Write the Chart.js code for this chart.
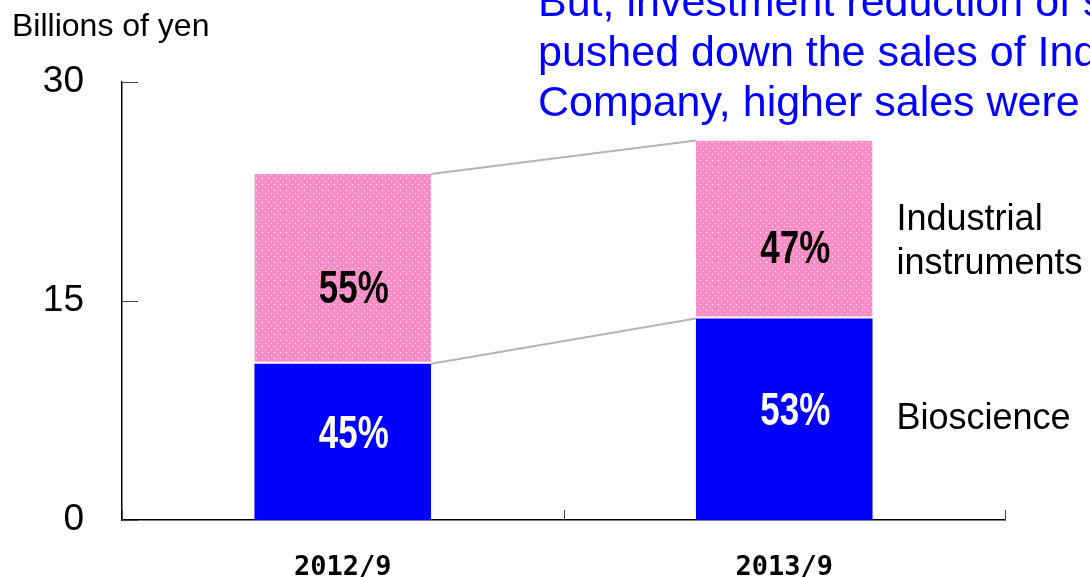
<!DOCTYPE html>
<html>
<head>
<meta charset="utf-8">
<script src="https://cdn.jsdelivr.net/npm/chart.js@4/dist/chart.umd.min.js"></script>
<style>
  body { margin: 0; background: #fff; }
  #wrap { width: 1090px; height: 577px; position: relative; }
</style>
</head>
<body>
<div id="wrap"><canvas id="salesGraph"></canvas></div>
<script>
// Dados
const periods = ["2012/9", "2013/9"];
const bioscience = [10.7, 13.8];
const industrial = [13.0, 12.2];
const segmentNames = ["Bioscience", ["Industrial", "instruments"]];
const unitLabel = "Billions of yen";
const noteLines = [
    "But, investment reduction of semiconductor",
    "pushed down the sales of Industrial",
    "Company, higher sales were"
];

// padrão rosa com pontinhos brancos
function dotPattern() {
    const c = document.createElement('canvas');
    c.width = 6; c.height = 6;
    const p = c.getContext('2d');
    p.fillStyle = '#FF8CC6';
    p.fillRect(0, 0, 6, 6);
    p.fillStyle = '#FFFFFF';
    p.fillRect(1, 1, 1, 1);
    p.fillRect(4, 4, 1, 1);
    return p.createPattern(c, 'repeat');
}

// texto estreito (tipo Arial Narrow)
function narrowText(ctx, txt, x, y, sx) {
    ctx.save();
    ctx.translate(x, y);
    ctx.scale(sx, 1);
    ctx.fillText(txt, 0, 0);
    ctx.restore();
}

const extras = {
    id: 'extras',
    afterDatasetsDraw(chart) {
        const ctx = chart.ctx;
        const x = chart.scales.x, y = chart.scales.y;
        const bio = chart.getDatasetMeta(0).data;
        const ind = chart.getDatasetMeta(1).data;
        ctx.save();

        // ticks para dentro
        ctx.strokeStyle = '#444';
        ctx.lineWidth = 1;
        [0, 15, 30].forEach(v => {
            const py = Math.round(y.getPixelForValue(v)) + 0.5;
            ctx.beginPath();
            ctx.moveTo(x.left, py);
            ctx.lineTo(x.left + 16, py);
            ctx.stroke();
        });
        const half = (x.getPixelForValue(1) - x.getPixelForValue(0)) / 2;
        [x.getPixelForValue(0) - half, x.getPixelForValue(0) + half, x.getPixelForValue(1) + half].forEach(px => {
            px = Math.round(px) + 0.5;
            ctx.beginPath();
            ctx.moveTo(px, y.bottom);
            ctx.lineTo(px, y.bottom - 10);
            ctx.stroke();
        });

        // linhas de ligação
        ctx.strokeStyle = '#B4B4B4';
        ctx.lineWidth = 2;
        [bio, ind].forEach(els => {
            ctx.beginPath();
            ctx.moveTo(els[0].x + els[0].width / 2, els[0].y);
            ctx.lineTo(els[1].x - els[1].width / 2, els[1].y);
            ctx.stroke();
        });

        // percentuais
        ctx.textAlign = 'center';
        ctx.textBaseline = 'middle';
        ctx.font = 'bold 46px "Liberation Sans", Arial, sans-serif';
        periods.forEach((p, i) => {
            const total = bioscience[i] + industrial[i];
            const pb = Math.round(bioscience[i] / total * 100);
            const pi = Math.round(industrial[i] / total * 100);
            const bx = bio[i].x + 11;
            ctx.fillStyle = '#fff';
            narrowText(ctx, pb + '%', bx, (bio[i].y + bio[i].base) / 2 - 7, 0.76);
            ctx.fillStyle = '#000';
            narrowText(ctx, pi + '%', bx, (ind[i].y + ind[i].base) / 2 + 21, 0.76);
        });

        // nomes dos segmentos
        const last = bio.length - 1;
        const lx = bio[last].x + bio[last].width / 2 + 24;
        ctx.textAlign = 'left';
        ctx.fillStyle = '#000';
        ctx.font = '36px "Liberation Sans", Arial, sans-serif';
        ctx.fillText(segmentNames[0], lx, (bio[last].y + bio[last].base) / 2);
        const indMid = (ind[last].y + ind[last].base) / 2 + 13;
        ctx.fillText(segmentNames[1][0], lx, indMid - 22);
        ctx.fillText(segmentNames[1][1], lx, indMid + 22);

        // unidade
        ctx.textBaseline = 'alphabetic';
        ctx.font = '32px "Liberation Sans", Arial, sans-serif';
        ctx.fillText(unitLabel, 12, 36);

        // texto azul
        ctx.fillStyle = '#0000FF';
        ctx.font = '43px "Liberation Sans", Arial, sans-serif';
        noteLines.forEach((t, k) => ctx.fillText(t, 538, 16 + k * 50));

        ctx.restore();
    }
};

const sales_ctx = document.getElementById("salesGraph").getContext('2d');

const salesGraph = new Chart(sales_ctx, {
    type: 'bar',
    data: {
        labels: periods,
        datasets: [{
            label: "Bioscience",
            data: bioscience,
            backgroundColor: '#0000FF',
            borderWidth: 0,
            barPercentage: 0.4,
            categoryPercentage: 1
        }, {
            label: "Industrial instruments",
            data: industrial,
            backgroundColor: dotPattern(),
            borderColor: '#fff',
            borderWidth: { bottom: 2, top: 0, left: 0, right: 0 },
            borderSkipped: false,
            barPercentage: 0.4,
            categoryPercentage: 1
        }]
    },
    options: {
        responsive: true,
        maintainAspectRatio: false,
        animation: false,
        layout: { padding: { top: 82, right: 85, left: 0, bottom: 0 } },
        plugins: {
            legend: { display: false },
            tooltip: { enabled: false }
        },
        scales: {
            x: {
                stacked: true,
                grid: { display: false },
                border: { display: true, color: '#000', width: 1.5 },
                ticks: {
                    color: '#000',
                    padding: 24,
                    maxRotation: 0,
                    font: { family: '"DejaVu Sans Mono", monospace', weight: 'bold', size: 27 }
                },
                afterFit(scale) { scale.height = 57; }
            },
            y: {
                stacked: true,
                min: 0,
                max: 30,
                grid: { display: false },
                border: { display: true, color: '#000', width: 1.5 },
                ticks: {
                    stepSize: 15,
                    color: '#000',
                    padding: 30,
                    font: { family: '"Liberation Sans", Arial, sans-serif', size: 37 }
                },
                afterFit(scale) { scale.width = 122; }
            }
        }
    },
    plugins: [extras]
});
</script>
</body>
</html>
